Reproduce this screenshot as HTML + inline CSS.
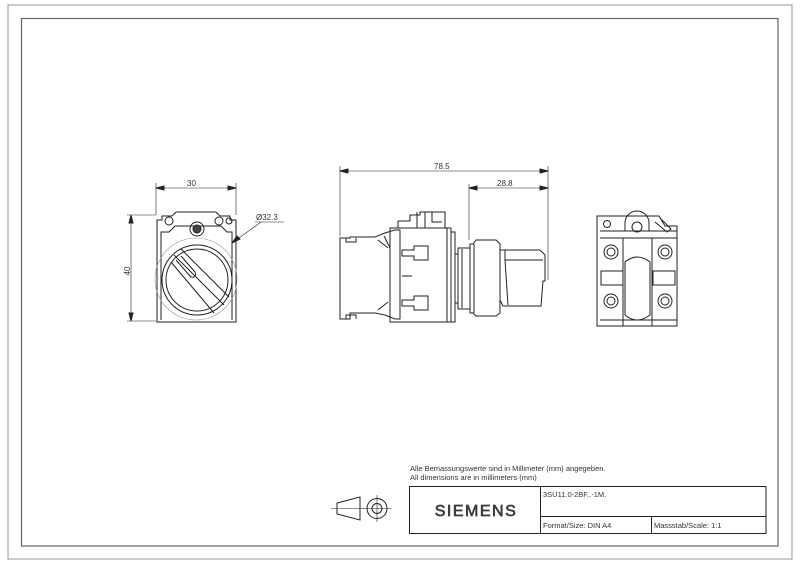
<!DOCTYPE html>
<html><head><meta charset="utf-8"><style>
html,body{margin:0;padding:0;background:#fff}
svg{display:block}
text{font-family:"Liberation Sans",sans-serif;fill:#333}
</style></head><body>
<svg width="800" height="565" viewBox="0 0 800 565" xmlns="http://www.w3.org/2000/svg">
<rect x="8" y="5" width="784" height="554" fill="none" stroke="#aaa" stroke-width="1.2"/>
<rect x="21.5" y="18.5" width="756.5" height="527.5" fill="none" stroke="#666" stroke-width="1.2"/>

<g stroke="#222" fill="none" stroke-width="1">
<!-- FRONT VIEW -->
<line x1="156" y1="183" x2="156" y2="215" stroke-width="0.6"/>
<line x1="236" y1="183" x2="236" y2="215" stroke-width="0.6"/>
<line x1="156" y1="188" x2="236" y2="188" stroke-width="0.6"/>
<path d="M156 188 l8 -2 v4z M236 188 l-8 -2 v4z" fill="#222"/>
<line x1="127" y1="215" x2="156" y2="215" stroke-width="0.6"/>
<line x1="127" y1="321" x2="156" y2="321" stroke-width="0.6"/>
<line x1="131" y1="215" x2="131" y2="321" stroke-width="0.6"/>
<path d="M131 215 l-2 8 h4z M131 321 l-2 -8 h4z" fill="#222"/>
<path d="M157 322 V220 h5 v-4 h10 l4 -4 h40 l4 4 h10 v4 h6 V322 z"/>
<path d="M161 320 V232 h8 l6 -6 h46 l6 6 h5 V320"/>
<circle cx="169" cy="221" r="4"/><circle cx="219" cy="221" r="4"/><circle cx="229" cy="221" r="3"/>
<circle cx="197" cy="229" r="7"/><circle cx="197" cy="229" r="4" fill="#444"/>
<circle cx="196" cy="279" r="41" stroke="#999" stroke-width="0.6"/>
<circle cx="197" cy="280" r="35"/>
<circle cx="197" cy="280" r="31"/>
<path d="M174 255 L224 305 M181 249 L229 297 M171 262 L214 313"/>
<path d="M176 260 L190 276 a3 3 0 0 0 5 -4 L181 256"/>
<line x1="232" y1="243" x2="261" y2="222" stroke-width="0.6"/>
<path d="M232 243 l5 -7 l3 3z" fill="#222"/>
<line x1="255" y1="222" x2="284" y2="222" stroke-width="0.6"/>

<!-- SIDE VIEW -->
<line x1="340" y1="166" x2="340" y2="236" stroke-width="0.6"/>
<line x1="548" y1="166" x2="548" y2="280" stroke-width="0.6"/>
<line x1="340" y1="171" x2="548" y2="171" stroke-width="0.6"/>
<path d="M340 171 l8 -2 v4z M548 171 l-8 -2 v4z" fill="#222"/>
<line x1="469" y1="184" x2="469" y2="240" stroke-width="0.6"/>
<line x1="469" y1="188" x2="548" y2="188" stroke-width="0.6"/>
<path d="M469 188 l8 -2 v4z M548 188 l-8 -2 v4z" fill="#222"/>
<path d="M340 319 V238 h10 v-1 h25 l10 -4 l10 -3 h5 V319 h-5 l-10 -4 l-10 -2 h-25 v6z"/>
<path d="M346 238 v4 h10 v-4 M346 319 v-4 h10 v4"/>
<path d="M378 240 l10 8 M378 310 l10 -8 M384 236 l6 12"/>
<path d="M390 228 V322 h57 V228 z"/>
<path d="M398 228 V221 h12 V215 h10 v-3 h25 v16"/>
<path d="M417 212 v16 M425 212 v16 M432 212 v10 h10"/>
<path d="M402 250 h12 v-4 h14 v14 h-14 v-4 h-12z M402 300 h12 v-4 h14 v14 h-14 v-4 h-12z"/>
<path d="M402 276 h10"/>
<path d="M447 228 h4 v4 h4 V322 h-8"/>
<path d="M451 232 V322"/>
<path d="M455 254 h3 v-6 h12 V309 h-12 v-6 h-3"/>
<path d="M458 254 V303 M462 249 V308"/>
<path d="M470 244 h3 l3 -4 h20 l4 4 V313 l-4 3 h-20 l-3 -3 h-3z"/>
<path d="M474 244 V313"/>
<path d="M500 250 h40 l5 5 v26 h-2 l-2 25 h-38 l-3 -6"/>
<path d="M505 250 v10 h38 M505 260 l3 45"/>

<!-- REAR VIEW -->
<path d="M597 326 V216 h62 l6 10 h12 V326 z"/>
<circle cx="607" cy="224" r="3.5"/>
<path d="M600 231 h77 M600 238 h77"/>
<path d="M625 231 v-8 a12 12 0 0 1 24 0 v8"/>
<circle cx="637" cy="227" r="5"/>
<path d="M655 222 l12 10 l4 -3 l-10 -10"/>
<circle cx="611" cy="252" r="7"/><circle cx="611" cy="252" r="4"/>
<circle cx="665" cy="252" r="7"/><circle cx="665" cy="252" r="4"/>
<circle cx="611" cy="301" r="7"/><circle cx="611" cy="301" r="4"/>
<circle cx="665" cy="301" r="7"/><circle cx="665" cy="301" r="4"/>
<rect x="601" y="271" width="22" height="14"/><rect x="653" y="271" width="22" height="14"/>
<path d="M625 262 Q637 252 650 262 V315 Q637 325 625 315 z"/>
<path d="M623 238 V326 M652 238 V326"/>
<path d="M600 320 h77"/>

<!-- PROJECTION SYMBOL -->
<path d="M337 503 L360 497 V520 L337 514 z"/>
<line x1="331" y1="508.5" x2="364" y2="508.5" stroke-width="0.6"/>
<circle cx="377" cy="508.5" r="10"/><circle cx="377" cy="508.5" r="5"/>
<line x1="363" y1="508.5" x2="391" y2="508.5" stroke-width="0.6"/>
<line x1="377" y1="495" x2="377" y2="522" stroke-width="0.6"/>

<!-- TITLE BLOCK -->
<rect x="409.5" y="486.5" width="356.5" height="47"/>
<line x1="540.5" y1="486" x2="540.5" y2="534"/>
<line x1="540" y1="516.5" x2="766" y2="516.5"/>
<line x1="651.5" y1="516" x2="651.5" y2="534"/>
</g>

<g font-size="8">
<text x="187" y="186">30</text>
<text x="127" y="274" transform="rotate(-90 127 271)" text-anchor="middle">40</text>
<text x="256" y="220">Ø32.3</text>
<text x="434" y="169">78.5</text>
<text x="497" y="186">28.8</text>
</g>
<g font-size="7.5">
<text x="410" y="471">Alle Bemassungswerte sind in Millimeter (mm) angegeben.</text>
<text x="410" y="480">All dimensions are in millimeters (mm)</text>
<text x="543" y="497">3SU11.0-2BF..-1M.</text>
<text x="543" y="528">Format/Size: DIN A4</text>
<text x="654" y="528">Massstab/Scale: 1:1</text>
</g>
<text x="476" y="516" font-size="16" text-anchor="middle" fill="#fff" stroke="#444" stroke-width="0.7" letter-spacing="1.5">SIEMENS</text>
</svg>
</body></html>
